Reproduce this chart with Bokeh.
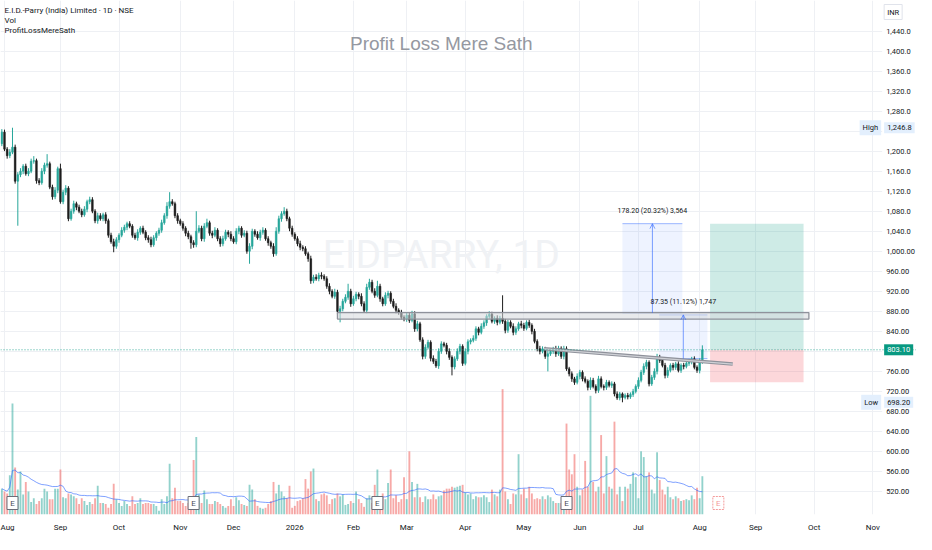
import pandas as pd
from bokeh.plotting import figure
from bokeh.models import Range1d, FixedTicker, Label, Span, Arrow, OpenHead
from bokeh.embed import file_html
from bokeh.resources import INLINE
from bokeh.core.properties import value

# ---------------- data ----------------
SYMBOL_TITLE = "E.I.D.-Parry (India) Limited · 1D · NSE"
first_date = "2025-07-31"
first_open = 1215.0

closes = [
    1238, 1204, 1191, 1198, 1208, 1140, 1153, 1160, 1170, 1155,
    1160, 1180, 1181, 1141, 1137, 1160, 1172, 1175, 1128, 1109,
    1122, 1165, 1099, 1118, 1126, 1065, 1080, 1095, 1088, 1080,
    1073, 1084, 1099, 1103, 1080, 1061, 1071, 1065, 1073, 1061,
    1032, 1019, 1010, 1023, 1032, 1042, 1048, 1055, 1050, 1032,
    1027, 1038, 1046, 1038, 1027, 1023, 1013, 1027, 1036, 1042,
    1057, 1071, 1090, 1099, 1095, 1071, 1061, 1055, 1046, 1036,
    1029, 1017, 1013, 1040, 1046, 1025, 1050, 1057, 1036, 1032,
    1042, 1025, 1015, 1025, 1038, 1034, 1025, 1019, 1040, 1046,
    1032, 1036, 1000, 1010, 1040, 1034, 1027, 1038, 1042, 1025,
    1017, 1010, 995, 1040, 1065, 1075, 1080, 1065, 1046, 1034,
    1025, 1015, 1008, 1005, 995, 985, 941, 948, 945, 952,
    950, 945, 930, 920, 910, 918, 880, 885, 900, 908,
    920, 895, 905, 914, 910, 895, 882, 928, 938, 920,
    912, 930, 905, 895, 912, 916, 900, 890, 882, 878,
    868, 865, 872, 862, 875, 845, 855, 823, 790, 808,
    818, 786, 780, 771, 800, 815, 812, 800, 788, 769,
    785, 800, 810, 776, 800, 819, 822, 826, 845, 838,
    850, 857, 870, 874, 860, 866, 858, 866, 860, 842,
    858, 850, 838, 845, 855, 852, 846, 858, 852, 840,
    820, 805, 800, 805, 790, 795, 800, 805, 795, 806,
    790, 805, 765, 755, 745, 738, 750, 758, 745, 740,
    728, 742, 730, 722, 745, 730, 728, 738, 732, 735,
    715, 707, 715, 708, 712, 709, 714, 720, 730, 742,
    758, 770, 778, 735, 748, 760, 788, 782, 772, 752,
    762, 772, 768, 775, 762, 772, 770, 776, 780, 785,
    768, 762, 780, 803.1,
]

upper_wicks = [
    6, 5, 4, 6, 38.8, 5, 5, 6, 4, 5,
    6, 5, 9, 4, 5, 6, 5, 19, 4, 5,
    6, 4, 10, 5, 6, 4, 5, 6, 4, 5,
    5, 6, 4, 6, 5, 4, 6, 5, 4, 5,
    4, 5, 6, 5, 4, 6, 5, 4, 5, 4,
    5, 6, 4, 5, 4, 5, 6, 5, 4, 5,
    6, 5, 8, 19, 5, 4, 5, 4, 5, 4,
    5, 4, 5, 40, 6, 5, 6, 8, 4, 5,
    6, 4, 5, 6, 5, 4, 6, 5, 6, 5,
    4, 6, 5, 6, 5, 4, 6, 5, 6, 4,
    5, 4, 6, 8, 6, 5, 8, 5, 4, 5,
    4, 5, 6, 4, 5, 4, 6, 5, 6, 5,
    6, 4, 5, 6, 4, 7, 5, 6, 5, 6,
    15, 5, 6, 5, 4, 6, 5, 7, 7, 5,
    6, 11, 5, 4, 6, 5, 4, 5, 6, 4,
    5, 4, 6, 5, 6, 5, 6, 4, 5, 6,
    5, 4, 6, 5, 6, 5, 4, 5, 6, 4,
    5, 6, 5, 4, 6, 5, 4, 6, 5, 4,
    6, 5, 4, 6, 5, 4, 6, 5, 46, 5,
    5, 4, 6, 5, 4, 6, 5, 4, 5, 4,
    5, 4, 6, 5, 4, 6, 5, 4, 6, 5,
    4, 6, 5, 4, 5, 4, 6, 5, 4, 5,
    4, 6, 5, 4, 6, 5, 4, 5, 4, 5,
    4, 5, 4, 3, 4, 5, 4, 5, 4, 6,
    5, 6, 5, 4, 5, 6, 7, 5, 4, 5,
    6, 4, 5, 4, 5, 4, 5, 6, 5, 4,
    5, 4, 6, 8.9,
]

lower_wicks = [
    5, 4, 6, 5, 4, 5, 89, 5, 6, 4,
    5, 4, 5, 6, 5, 4, 6, 5, 4, 6,
    5, 6, 4, 5, 6, 5, 4, 5, 6, 4,
    5, 4, 6, 5, 4, 5, 6, 4, 5, 6,
    5, 4, 12, 5, 6, 4, 5, 6, 4, 5,
    4, 6, 5, 4, 5, 6, 5, 4, 6, 5,
    5, 4, 6, 5, 4, 5, 6, 4, 5, 6,
    5, 12, 6, 5, 4, 5, 6, 4, 5, 6,
    4, 5, 6, 5, 4, 6, 5, 4, 5, 6,
    5, 4, 5, 25, 6, 5, 4, 6, 5, 4,
    6, 5, 6, 4, 5, 6, 4, 5, 6, 5,
    4, 5, 6, 5, 4, 6, 6, 5, 4, 5,
    6, 4, 5, 6, 4, 5, 6, 22, 5, 4,
    5, 6, 4, 5, 6, 5, 4, 6, 5, 4,
    5, 4, 6, 5, 4, 6, 5, 4, 6, 5,
    4, 5, 6, 5, 4, 6, 5, 4, 6, 5,
    4, 6, 5, 4, 6, 5, 4, 6, 5, 17,
    5, 4, 6, 5, 4, 6, 5, 4, 5, 6,
    4, 5, 6, 5, 4, 5, 6, 4, 5, 6,
    5, 4, 6, 5, 4, 6, 5, 4, 5, 6,
    4, 5, 6, 4, 5, 30, 4, 5, 6, 4,
    5, 6, 4, 5, 6, 5, 4, 6, 5, 4,
    6, 5, 4, 6, 5, 4, 6, 5, 4, 5,
    5, 4, 5, 9.8, 4, 5, 4, 5, 4, 5,
    4, 5, 6, 5, 4, 5, 6, 5, 4, 6,
    5, 4, 6, 5, 4, 5, 6, 4, 5, 6,
    4, 5, 6, 5,
]

# volume, in units of 10k shares
volumes = [
    27, 24, 22, 41, 116, 49, 26, 45, 21, 34,
    24, 13, 17, 11, 14, 17, 27, 24, 16, 16,
    27, 27, 47, 18, 17, 22, 21, 19, 17, 11,
    17, 14, 10, 13, 11, 17, 30, 12, 12, 11,
    7, 11, 32, 16, 12, 9, 14, 11, 9, 19,
    11, 12, 17, 11, 12, 12, 11, 11, 9, 4,
    16, 11, 19, 53, 17, 28, 14, 14, 12, 9,
    12, 17, 57, 81, 21, 12, 25, 16, 11, 11,
    14, 13, 11, 9, 7, 9, 16, 9, 18, 15,
    11, 10, 9, 31, 26, 16, 9, 7, 6, 7,
    11, 14, 34, 22, 31, 24, 19, 17, 30, 7,
    9, 14, 15, 17, 37, 27, 45, 48, 16, 14,
    21, 22, 20, 11, 16, 17, 22, 19, 21, 10,
    11, 14, 12, 24, 16, 12, 8, 17, 20, 12,
    31, 47, 17, 22, 16, 33, 47, 17, 20, 13,
    16, 39, 16, 66, 34, 18, 32, 18, 13, 19,
    16, 16, 21, 16, 19, 20, 25, 27, 27, 29,
    28, 29, 30, 31, 23, 21, 22, 16, 19, 18,
    18, 20, 18, 13, 26, 21, 19, 26, 131, 24,
    16, 11, 22, 21, 63, 21, 27, 17, 29, 22,
    16, 17, 16, 19, 16, 20, 18, 14, 12, 12,
    12, 16, 95, 47, 42, 63, 29, 20, 26, 56,
    29, 124, 34, 24, 29, 83, 22, 61, 29, 27,
    97, 21, 29, 14, 29, 27, 32, 44, 39, 17,
    66, 60, 40, 44, 26, 22, 65, 36, 26, 21,
    29, 18, 16, 19, 17, 14, 15, 16, 15, 20,
    16, 28, 17, 40,
]

price_ticks = [520, 560, 600, 640, 680, 720, 760, 800, 840, 880, 920, 960,
               1000, 1040, 1080, 1120, 1160, 1200, 1240, 1280, 1320, 1360,
               1400, 1440]
hidden_ticks = [800, 1240]  # covered by the price / high markers
month_labels = ["Aug", "Sep", "Oct", "Nov", "Dec", "2026", "Feb", "Mar", "Apr",
                "May", "Jun", "Jul", "Aug", "Sep", "Oct", "Nov"]

earnings_bars = [4, 72, 141, 212]
upcoming_earnings_bar = 269
last_price = 803.10
period_high = 1246.8
period_low = 698.20

# ---- drawings placed by the author on the chart (bar index / price) ----
zone = dict(left=126.0, right=303.0, bottom=864.5, top=877.5)
trend_x = [203.6, 274.4]
trend_y = [805.0, 774.5]
measure_1 = dict(x0=233.0, x1=255.5, y0=876.9, y1=1055.1,
                 text="178.20 (20.32%) 3,564", ty=1080.0)
measure_2 = dict(x0=246.8, x1=264.9, y0=785.5, y1=872.85,
                 text="87.35 (11.12%) 1,747", ty=898.0)
long_pos = dict(x0=265.9, x1=301.0, entry=803.10, target=1055.0, stop=738.0)

# ---------------- build table ----------------
n = len(closes)
opens = [first_open] + closes[:-1]
highs = [max(o, c) + u for o, c, u in zip(opens, closes, upper_wicks)]
lows = [min(o, c) - l for o, c, l in zip(opens, closes, lower_wicks)]
idx = list(range(n))
up = [c >= o for o, c in zip(opens, closes)]
UP, DOWN = "#26a69a", "#1e1e1e"
cndl_col = [UP if u else DOWN for u in up]
vol_col = ["#26a69a" if u else "#ef5350" for u in up]
body_top = [max(o, c) for o, c in zip(opens, closes)]
body_bot = [min(o, c) for o, c in zip(opens, closes)]
vol_ma = pd.Series(volumes, dtype=float).rolling(20, min_periods=1).mean().tolist()

dates = pd.bdate_range(first_date, periods=340)
month_ticks = [i for i in range(1, len(dates)) if dates[i].month != dates[i - 1].month]
month_ticks = month_ticks[:len(month_labels)]

FONT = "Roboto"
TXT = "#131722"

X0, X1, XEND = -0.5, 330.5, 343.4   # X1 = edge of the chart pane, beyond = price scale
Y0, Y1 = 474, 1501
p = figure(width=916, height=534, x_range=Range1d(X0, XEND), y_range=Range1d(Y0, Y1),
           y_axis_location=None, output_backend="svg", toolbar_location=None,
           min_border_left=0, min_border_top=0, min_border_bottom=0, min_border_right=0)
p.extra_y_ranges = {"vol": Range1d(0, 537)}
p.outline_line_color = None
p.background_fill_color = "white"
p.border_fill_color = "white"

# grid
p.ygrid.ticker = FixedTicker(ticks=price_ticks)
p.xgrid.ticker = FixedTicker(ticks=month_ticks)
for g in (p.xgrid, p.ygrid):
    g.grid_line_color = "#eef0f4"
    g.grid_line_width = 1

# time axis
p.xaxis.ticker = FixedTicker(ticks=month_ticks)
p.xaxis.major_label_overrides = {t: lab for t, lab in zip(month_ticks, month_labels)}
p.xaxis.axis_line_color = None
p.xaxis.major_tick_line_color = None
p.xaxis.minor_tick_line_color = None
p.xaxis.major_label_text_font = FONT
p.xaxis.major_label_text_font_size = "8px"
p.xaxis.major_label_text_color = TXT
p.xaxis.major_label_standoff = 2

# price scale pane (white, no grid)
p.quad(left=X1, right=XEND, bottom=Y0, top=Y1, fill_color="white", line_color=None)
ytick_show = [t for t in price_ticks if t not in hidden_ticks]
ytick_text = [(f"{t:,.1f}" if t > 1000 else f"{t:,.2f}") for t in ytick_show]
p.text(x=[X1] * len(ytick_show), y=ytick_show, text=ytick_text, x_offset=4,
       text_align="left", text_baseline="middle", text_font=value(FONT),
       text_font_size="7.5px", text_color=TXT)

# watermarks
p.add_layout(Label(x=165, y=992, text="EIDPARRY, 1D", text_align="center",
                   text_baseline="middle", text_font="Roboto",
                   text_font_size="39px", text_color="#f0f2f5", level="underlay"))
p.add_layout(Label(x=165, y=1415, text="Profit Loss Mere Sath", text_align="center",
                   text_baseline="middle", text_font="Liberation Sans",
                   text_font_size="19px", text_color="#9598a1"))

# volume
p.vbar(x=idx, top=volumes, bottom=0, width=0.7, fill_color=vol_col, fill_alpha=0.5,
       line_color=None, y_range_name="vol")
p.line(idx, vol_ma, line_color="#2962ff", line_alpha=0.6, line_width=1, y_range_name="vol")

# earnings markers
p.rect(x=earnings_bars, y=[12] * len(earnings_bars), width=11, height=13,
       width_units="screen", height_units="screen", fill_color="white",
       line_color="#6a6d78", line_width=1, y_range_name="vol")
p.text(x=earnings_bars, y=[12] * len(earnings_bars), text=["E"] * len(earnings_bars),
       text_align="center", text_baseline="middle", text_font=value(FONT),
       text_font_size="8px", text_color="#4a4d57", y_range_name="vol")
p.rect(x=[upcoming_earnings_bar], y=[12], width=11, height=13, width_units="screen",
       height_units="screen", fill_color="white", line_color="#f49b9b",
       line_dash="2 1", line_width=1, y_range_name="vol")
p.text(x=[upcoming_earnings_bar], y=[12], text=["E"], text_align="center",
       text_baseline="middle", text_font=value(FONT), text_font_size="8px",
       text_color="#f49b9b", y_range_name="vol")

# long position tool
p.quad(left=long_pos["x0"], right=long_pos["x1"], bottom=long_pos["entry"],
       top=long_pos["target"], fill_color="#089981", fill_alpha=0.2, line_color=None)
p.quad(left=long_pos["x0"], right=long_pos["x1"], bottom=long_pos["stop"],
       top=long_pos["entry"], fill_color="#f23645", fill_alpha=0.2, line_color=None)

# measurement boxes
for m in (measure_1, measure_2):
    p.quad(left=m["x0"], right=m["x1"], bottom=m["y0"], top=m["y1"],
           fill_color="#2962ff", fill_alpha=0.08, line_color=None)
    for yy in (m["y0"], m["y1"]):
        p.line([m["x0"], m["x1"]], [yy, yy], line_color="#2962ff", line_alpha=0.45, line_width=1)
    xm = (m["x0"] + m["x1"]) / 2
    p.add_layout(Arrow(end=OpenHead(size=5, line_color="#2962ff", line_alpha=0.6, line_width=1),
                       x_start=xm, y_start=m["y0"], x_end=xm, y_end=m["y1"],
                       line_color="#2962ff", line_alpha=0.6, line_width=1))
    p.add_layout(Label(x=xm, y=m["ty"], text=m["text"], text_align="center",
                       text_baseline="middle", text_font=FONT, text_font_size="7px",
                       text_color=TXT))

# candles
p.segment(x0=idx, y0=lows, x1=idx, y1=highs, line_color=cndl_col, line_width=1)
p.vbar(x=idx, top=body_top, bottom=body_bot, width=0.62, fill_color=cndl_col,
       line_color=cndl_col, line_width=0.6)

# resistance zone and trend line
p.quad(left=zone["left"], right=zone["right"], bottom=zone["bottom"], top=zone["top"],
       fill_color="#d6d8dd", fill_alpha=0.55, line_color="#8f929b", line_width=1.3)
p.line(trend_x, trend_y, line_color="#8f929b", line_width=3.5)
p.line(trend_x, trend_y, line_color="#cfd1d6", line_width=1.2)

# last price line
p.add_layout(Span(location=last_price, dimension="width", line_color="#089981",
                  line_dash="1 2", line_width=1, line_alpha=0.8))

# legend texts (top-left)
for txt, yy in ((SYMBOL_TITLE, 1482), ("Vol", 1461), ("ProfitLossMereSath", 1441)):
    p.add_layout(Label(x=1.0, y=yy, text=txt, text_align="left", text_baseline="middle",
                       text_font=FONT, text_font_size="8px", text_color=TXT))

# price-scale markers
def scale_box(y, text, bg, fg, border=None):
    p.add_layout(Label(x=X1, y=y, x_offset=2, text=text, text_align="left",
                       text_baseline="middle", text_font=FONT, text_font_size="7.5px",
                       text_color=fg, background_fill_color=bg, background_fill_alpha=1.0,
                       border_line_color=border, padding=3, level="overlay"))

scale_box(1478, "INR", "white", TXT, border="#e0e3eb")
scale_box(period_high, f"{period_high:,.1f}", "#e3effd", TXT)
scale_box(period_low, f"{period_low:,.2f}", "#e3effd", TXT)
scale_box(last_price, f"{last_price:,.2f}", "#089981", "white")
for yv, t in ((period_high, "High"), (period_low, "Low")):
    p.add_layout(Label(x=X1, y=yv, x_offset=-1, text=t, text_align="right",
                       text_baseline="middle", text_font=FONT, text_font_size="7.5px",
                       text_color=TXT, background_fill_color="#e3effd",
                       background_fill_alpha=1.0, padding=3, level="overlay"))

open("out.html", "w").write(file_html(p, INLINE))
